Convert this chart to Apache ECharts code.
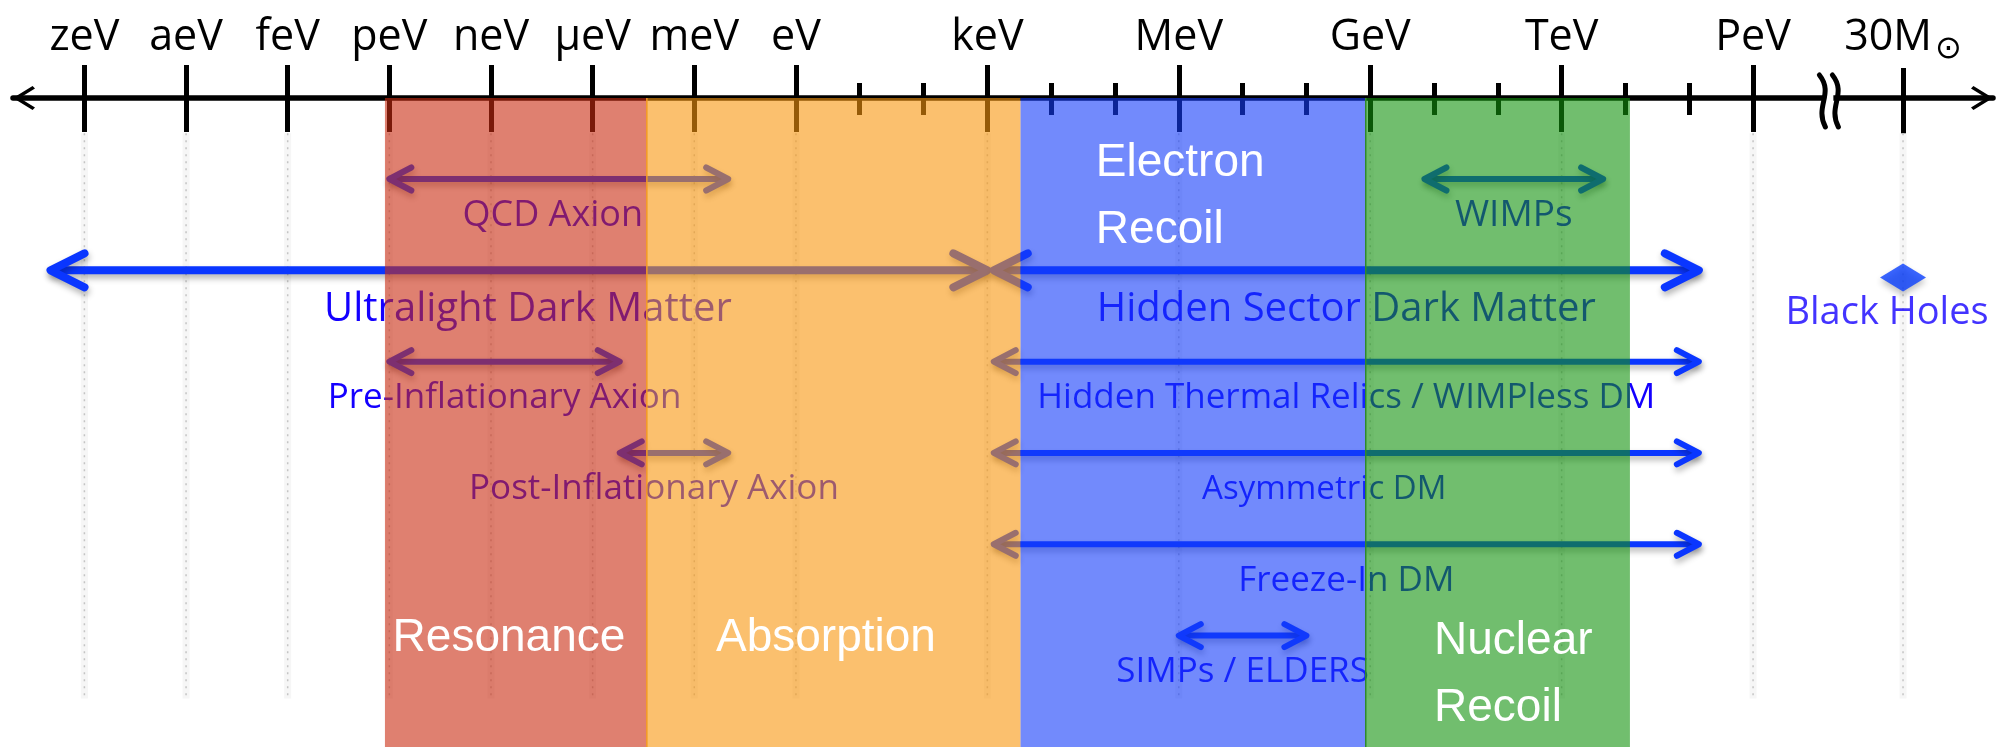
<!DOCTYPE html>
<html>
<head>
<meta charset="utf-8">
<script src="https://cdn.jsdelivr.net/npm/echarts@6/dist/echarts.min.js"></script>
<style>
  html, body { margin: 0; padding: 0; background: #fff; }
  #chart { width: 2007px; height: 747px; }
</style>
</head>
<body>
<div id="chart"></div>
<script>
// all energies are log10(E / eV)
var tickLabels = ['zeV', 'aeV', 'feV', 'peV', 'neV', 'μeV', 'meV', 'eV', 'keV', 'MeV', 'GeV', 'TeV', 'PeV'];
var tickEnergy = [-21, -18, -15, -12, -9, -6, -3, 0, 3, 6, 9, 12, 15];
var minorEnergy = [1, 2, 4, 5, 7, 8, 10, 11, 13, 14];
var solarLabel = '{m|30M}{sun|⊙}';

var bandNames = ['Resonance', 'Absorption', 'Electron\nRecoil', 'Nuclear\nRecoil'];
var bandFrom = [-12.13, -4.4, 3.52, 8.93];
var bandTo = [-4.4, 3.52, 8.93, 13.07];

var arrowNames = ['QCD Axion', 'WIMPs', 'Ultralight Dark Matter', 'Hidden Sector Dark Matter',
  'Pre-Inflationary Axion', 'Hidden Thermal Relics / WIMPless DM', 'Post-Inflationary Axion',
  'Asymmetric DM', 'Freeze-In DM', 'SIMPs / ELDERS'];
var arrowFrom = [-12, 9.85, -22, 3.1, -12, 3.1, -5.2, 3.1, 3.1, 6];
var arrowTo = [-2, 12.65, 3, 14.15, -5.2, 14.15, -2, 14.15, 14.15, 8];
var arrowRow = [0, 0, 1, 1, 2, 2, 3, 3, 4, 5];

var blackHoleName = 'Black Holes';

// ---- layout / style ----
var DECADE_LEFT = 0.531;   // axis is squeezed below 1 eV (one major tick per 10^3)
var SOLAR_POS = 17.35;     // 30 M_sun sits past the axis break
var BREAK_POS = 16.18;
var X_MIN = -12.27, X_MAX = 18.76;
var Y_MIN = -0.887, Y_MAX = 6.22;
var GRID_TOP_ROW = -0.5, GRID_BOTTOM_ROW = 5.69;
var BH_ROW = 1.08;

var LABEL_FONT = '"Open Sans", "Noto Sans", sans-serif';
var BAND_FONT = '"Liberation Sans", Arial, sans-serif';
var ARROW_COLOR = '#0a36ff';
var TEXT_COLOR = '#1400ff';
var bandColors = ['rgba(202,43,17,0.6)', 'rgba(248,150,13,0.6)', 'rgba(20,60,250,0.6)', 'rgba(18,147,13,0.6)'];
var bandEdge = [null, '#f39a22', null, '#2f8a2c'];
var bandLabelAt = [
  { e: -8.47, row: 5.03, align: 'center' },
  { e: 0.47, row: 5.03, align: 'center' },
  { e: 4.7, row: 0.2, align: 'left' },
  { e: 10.0, row: 5.43, align: 'left' }
];
var bigArrows = ['Ultralight Dark Matter', 'Hidden Sector Dark Matter'];
var labelNudge = { 'QCD Axion': -6, 'Ultralight Dark Matter': 9, 'Post-Inflationary Axion': -20, 'Asymmetric DM': -22 };
var labelSize = { 'QCD Axion': 36, 'WIMPs': 37, 'Asymmetric DM': 33 };

function pos(e) { return e < 0 ? e * DECADE_LEFT : e; }

var majorPos = tickEnergy.map(pos);
var minorPos = minorEnergy.map(pos);

var CHEVRON = 'path://M120 0 L240 196 L214 220 L120 66 L26 220 L0 196 Z';
var tickStyle = { color: '#000', width: 5 };

function axis(extra) {
  return Object.assign({
    type: 'value', position: 'top', min: X_MIN, max: X_MAX,
    splitLine: { show: false },
    axisLine: { show: false, onZero: false },
    axisTick: { show: false },
    axisLabel: { show: false }
  }, extra);
}

var chart = echarts.init(document.getElementById('chart'));

var option = {
  animation: false,
  backgroundColor: '#fff',
  grid: { left: 13, right: 14, top: 98, bottom: 0 },
  xAxis: [
    axis({
      axisLine: {
        show: true, onZero: false,
        symbol: [CHEVRON, CHEVRON], symbolSize: [24, 22], symbolOffset: [11, -11],
        lineStyle: { color: '#000', width: 5.5 }
      },
      axisTick: { show: true, customValues: majorPos, length: 33, lineStyle: tickStyle },
      axisLabel: {
        show: true, customValues: majorPos, margin: 39,
        fontFamily: LABEL_FONT, fontSize: 43, color: '#000',
        formatter: function (v) {
          for (var i = 0; i < majorPos.length; i++) {
            if (Math.abs(majorPos[i] - v) < 1e-6) return tickLabels[i];
          }
          return '';
        }
      }
    }),
    axis({ axisTick: { show: true, inside: true, customValues: majorPos, length: 34, lineStyle: tickStyle } }),
    axis({ axisTick: { show: true, customValues: minorPos, length: 15, lineStyle: tickStyle } }),
    axis({ axisTick: { show: true, inside: true, customValues: minorPos, length: 17, lineStyle: tickStyle } }),
    axis({
      axisTick: { show: true, customValues: [SOLAR_POS], length: 30, lineStyle: tickStyle },
      axisLabel: {
        show: true, customValues: [SOLAR_POS], margin: 32, color: '#000',
        formatter: function () { return solarLabel; },
        rich: {
          m: { fontFamily: LABEL_FONT, fontSize: 43, color: '#000', verticalAlign: 'bottom', padding: [0, 0, 7, 0] },
          sun: { fontFamily: '"DejaVu Sans", sans-serif', fontSize: 32, color: '#000', verticalAlign: 'bottom', padding: [0, 0, 0, 3] }
        }
      }
    }),
    axis({ axisTick: { show: true, inside: true, customValues: [SOLAR_POS], length: 37, lineStyle: tickStyle } })
  ],
  yAxis: { type: 'value', inverse: true, min: Y_MIN, max: Y_MAX, show: false },
  series: [
    {
      // dotted guide lines under every major tick
      type: 'custom', name: 'guides', z: 1, silent: true,
      data: majorPos.concat([SOLAR_POS]).map(function (p) { return [p]; }),
      encode: { x: 0 },
      renderItem: function (params, api) {
        var top = api.coord([api.value(0), GRID_TOP_ROW]);
        var bot = api.coord([api.value(0), GRID_BOTTOM_ROW]);
        return {
          type: 'group', children: [
            { type: 'line', shape: { x1: top[0], y1: top[1], x2: bot[0], y2: bot[1] }, style: { stroke: '#f6f6f6', lineWidth: 7 } },
            { type: 'line', shape: { x1: top[0], y1: top[1], x2: bot[0], y2: bot[1] }, style: { stroke: '#c4c4c4', lineWidth: 1.5, lineDash: [2, 5] } }
          ]
        };
      }
    },
    {
      // axis break marks
      type: 'custom', name: 'break', z: 3, silent: true,
      data: [[BREAK_POS, Y_MIN]],
      encode: { x: 0, y: 1 },
      renderItem: function (params, api) {
        var c = api.coord([api.value(0), api.value(1)]);
        var x = c[0], y = c[1];
        function wave(dx) {
          return {
            type: 'bezierCurve',
            shape: { x1: x + dx - 3, y1: y - 23, cpx1: x + dx + 12, cpy1: y - 4, cpx2: x + dx - 8, cpy2: y + 8, x2: x + dx + 3, y2: y + 29 },
            style: { stroke: '#000', lineWidth: 5, fill: null, lineCap: 'round' }
          };
        }
        return {
          type: 'group', children: [
            { type: 'rect', shape: { x: x - 3, y: y - 5, width: 8, height: 10 }, style: { fill: '#fff' } },
            wave(-6), wave(7)
          ]
        };
      }
    },
    {
      type: 'custom', name: 'arrows', z: 2, silent: true,
      data: arrowNames.map(function (n, i) { return [pos(arrowFrom[i]), pos(arrowTo[i]), arrowRow[i], i]; }),
      encode: { x: [0, 1], y: 2 },
      renderItem: function (params, api) {
        var i = api.value(3);
        var name = arrowNames[i];
        var big = bigArrows.indexOf(name) >= 0;
        var w = big ? 8 : 6, hl = big ? 34 : 22, hh = big ? 17 : 11.5;
        var a = api.coord([api.value(0), api.value(2)]);
        var b = api.coord([api.value(1), api.value(2)]);
        var y = a[1];
        function st() {
          return {
            stroke: ARROW_COLOR, lineWidth: w, fill: null, lineCap: 'round', lineJoin: 'round',
            shadowColor: 'rgba(0,0,0,0.3)', shadowBlur: 6, shadowOffsetX: 1, shadowOffsetY: 4
          };
        }
        var ly = api.coord([0, api.value(2) + (big ? 0.43 : 0.4)])[1];
        return {
          type: 'group', children: [
            { type: 'line', shape: { x1: a[0] + 2, y1: y, x2: b[0] - 2, y2: y }, style: st() },
            { type: 'polyline', shape: { points: [[a[0] + hl, y - hh], [a[0], y], [a[0] + hl, y + hh]] }, style: st() },
            { type: 'polyline', shape: { points: [[b[0] - hl, y - hh], [b[0], y], [b[0] - hl, y + hh]] }, style: st() },
            {
              type: 'text', x: (a[0] + b[0]) / 2 + (labelNudge[name] || 0), y: ly,
              style: {
                text: name, fill: TEXT_COLOR, fontFamily: LABEL_FONT,
                fontSize: big ? 40 : (labelSize[name] || 35), align: 'center', verticalAlign: 'middle'
              }
            }
          ]
        };
      }
    },
    {
      type: 'scatter', name: blackHoleName, z: 2, silent: true,
      data: [[SOLAR_POS, BH_ROW]],
      symbol: 'diamond', symbolSize: [46, 28],
      itemStyle: { color: '#0a40ff', shadowColor: 'rgba(0,0,0,0.3)', shadowBlur: 6, shadowOffsetY: 4 },
      label: {
        show: true, position: 'bottom', distance: 3, offset: [-16, 0],
        formatter: blackHoleName, color: TEXT_COLOR, fontFamily: LABEL_FONT, fontSize: 38
      }
    },
    {
      // detection technique bands, translucent over everything drawn so far
      type: 'custom', name: 'bands', z: 5, silent: true,
      data: bandNames.map(function (n, i) { return [pos(bandFrom[i]), pos(bandTo[i]), i]; }),
      encode: { x: [0, 1] },
      renderItem: function (params, api) {
        var i = api.value(2);
        var cs = params.coordSys;
        var x0 = api.coord([api.value(0), Y_MIN])[0];
        var x1 = api.coord([api.value(1), Y_MIN])[0];
        var kids = [{ type: 'rect', shape: { x: x0, y: cs.y, width: x1 - x0, height: cs.height }, style: { fill: bandColors[i] } }];
        if (bandEdge[i]) {
          kids.push({ type: 'line', shape: { x1: x0, y1: cs.y, x2: x0, y2: cs.y + cs.height }, style: { stroke: bandEdge[i], lineWidth: 1.5 } });
        }
        return { type: 'group', children: kids };
      }
    },
    {
      type: 'custom', name: 'bandLabels', z: 6, silent: true,
      data: bandNames.map(function (n, i) { return [pos(bandLabelAt[i].e), bandLabelAt[i].row, i]; }),
      encode: { x: 0, y: 1 },
      renderItem: function (params, api) {
        var i = api.value(2);
        var p = api.coord([api.value(0), api.value(1)]);
        return {
          type: 'text', x: p[0], y: p[1],
          style: {
            text: bandNames[i], fill: '#fff', fontFamily: BAND_FONT, fontSize: 46, lineHeight: 67,
            align: bandLabelAt[i].align, verticalAlign: 'middle'
          }
        };
      }
    }
  ]
};

chart.setOption(option);
</script>
</body>
</html>
